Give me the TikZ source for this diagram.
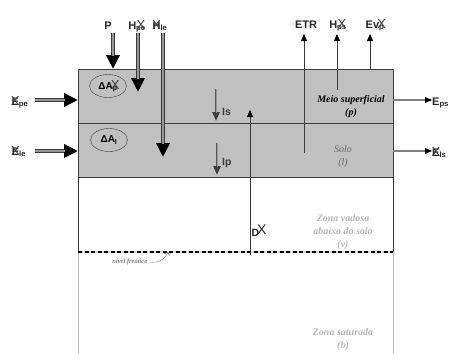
\documentclass[tikz,border=0pt]{standalone}
\usepackage{fontspec}
\setmainfont{Liberation Sans}
\newfontfamily\zoneserif{Liberation Serif}
\usetikzlibrary{arrows.meta,shapes.geometric}
\definecolor{boxgray}{RGB}{192,192,192}
\definecolor{edgegray}{RGB}{60,60,60}
\definecolor{shaftgray}{RGB}{150,150,150}
\definecolor{midtext}{RGB}{105,105,105}
\definecolor{softtext}{RGB}{185,185,185}
\newcommand{\xo}[1]{\ooalign{#1\cr\hidewidth{\fontsize{13}{13}\selectfont\mdseries\color{edgegray}X}\hidewidth\cr}}

\begin{document}
\begin{tikzpicture}[x=1pt, y=-1pt,
  lbl/.style={font=\fontsize{11}{12}\selectfont\bfseries, text=black!85, inner sep=0pt, anchor=base},
  islbl/.style={font=\fontsize{10.5}{12}\selectfont\bfseries, text=edgegray, inner sep=0pt, anchor=base west},
  zone/.style={font=\zoneserif\fontsize{10}{13}\selectfont\bfseries\itshape, align=center, inner sep=0pt},
  fat/.style={line width=3.4pt, draw=edgegray, -{Triangle[length=14pt, width=13pt, color=black]}, postaction={draw=shaftgray, line width=1.5pt, shorten >=13pt, -}},
  slim/.style={line width=2.2pt, draw=edgegray!85, -{Triangle[length=9pt, width=7pt, color=edgegray]}, postaction={draw=shaftgray, line width=1pt, shorten >=8pt, -}},
  upflow/.style={line width=0.9pt, draw=edgegray, -{Triangle[length=7pt, width=6pt, color=black]}},
  side/.style={line width=1.1pt, draw=gray, -{Triangle[length=7pt, width=6pt, color=black]}},
  ell/.style={draw=edgegray, ellipse, minimum width=37pt, minimum height=23pt, inner sep=0pt, font=\fontsize{10}{10}\selectfont\bfseries}]
\useasboundingbox (0,0) rectangle (456,354);
% layers
\fill[boxgray] (78,69) rectangle (393,177);
\draw[softtext, line width=1pt] (78,252) -- (78,354) (393,252) -- (393,354);
\draw[edgegray, line width=1pt] (78,177) rectangle (393,69) (78,123) -- (393,123) (78,177) -- (78,252) (393,177) -- (393,252);
\draw[gray!30, line width=1.3pt] (78,252) -- (393,252);
\draw[black, line width=1.3pt, dash pattern=on 4pt off 2.5pt] (78,252) -- (393,252);
% zone names
\node[zone] (meio) at (351,107) {Meio superficial\\(p)};
\node[zone, text=midtext, font=\zoneserif\fontsize{10}{13}\selectfont\itshape] (solo) at (343,157) {Solo\\(l)};
\node[zone, text=softtext] (vadosa) at (343,232) {Zona vadosa\\abaixo do solo\\(v)};
\node[zone, text=softtext] (saturada) at (343,340) {Zona saturada\\(b)};
\node[zone, text=gray, font=\zoneserif\fontsize{6.5}{7}\selectfont\bfseries\itshape] (nivel) at (130,262) {nível freático};
\coordinate (wt) at (168,252);
\draw[gray, -{Straight Barb[length=3pt]}] (nivel.east) ++(2,0) coordinate (nivelTail) (nivelTail) to[bend right=40] (wt);
% storages
\node[ell] (dAp) at (108,86) {ΔA\xo{\textsubscript{p}}};
\node[ell] (dAl) at (109,140) {ΔA\textsubscript{l}};
% inflows from above
\node[lbl] (P) at (108,29) {P};
\node[lbl] (Hpe) at (137,29) {H\xo{\textsubscript{pe}}};
\node[lbl] (Hle) at (160,29) {\xo{H}\textsubscript{le}};
\coordinate (Ptail) at (113,33);
\coordinate (Hpetail) at (138,33);
\coordinate (Hletail) at (163,33);
\coordinate (Pin) at (113,69);
\coordinate (Hpein) at (138,92);
\coordinate (Hlein) at (163,157);
\draw[fat] (Ptail) -- (Pin);
\draw[fat] (Hpetail) -- (Hpein);
\draw[fat] (Hletail) -- (Hlein);
% lateral inflows
\node[lbl] (Epe) at (20,105) {\xo{E}\textsubscript{pe}};
\node[lbl] (Ele) at (19,155) {\xo{E}\textsubscript{le}};
\coordinate (Epetail) at (35,100);
\coordinate (Eletail) at (35,151);
\coordinate (Epein) at (78,100);
\coordinate (Elein) at (78,151);
\draw[fat] (Epetail) -- (Epein);
\draw[fat] (Eletail) -- (Elein);
% infiltration and percolation
\coordinate (Istop) at (216,89);
\coordinate (Isbot) at (216,121);
\coordinate (Iptop) at (217,143);
\coordinate (Ipbot) at (217,175);
\draw[slim] (Istop) -- (Isbot);
\draw[slim] (Iptop) -- (Ipbot);
\node[islbl] (Is) at (222,115) {Is};
\node[islbl] (Ip) at (222,165) {Ip};
% capillary rise
\coordinate (Dfoot) at (250,255);
\coordinate (Dtip) at (250,110);
\draw[upflow] (Dfoot) -- (Dtip);
\node[lbl, font=\fontsize{10.5}{12}\selectfont\bfseries] (D) at (259,236) {D\kern-2pt\raisebox{1.5pt}{\fontsize{14}{14}\selectfont\mdseries X}};
% outflows upwards
\node[lbl] (ETR) at (306,28) {ETR};
\node[lbl] (Hps) at (338,28) {H\xo{\textsubscript{ps}}};
\node[lbl] (Evp) at (375,28) {Ev\xo{\textsubscript{p}}};
\coordinate (ETRfoot) at (304,153);
\coordinate (Hpsfoot) at (337,90);
\coordinate (Evpfoot) at (370,69);
\coordinate (ETRtip) at (304,34);
\coordinate (Hpstip) at (337,34);
\coordinate (Evptip) at (370,34);
\draw[upflow] (ETRfoot) -- (ETRtip);
\draw[upflow] (Hpsfoot) -- (Hpstip);
\draw[upflow] (Evpfoot) -- (Evptip);
% lateral outflows
\node[lbl, anchor=base west] (Eps) at (432,105) {E\textsubscript{ps}};
\node[lbl, anchor=base west] (Els) at (432,156) {\xo{E}\textsubscript{ls}};
\coordinate (Epsout) at (393,100);
\coordinate (Elsout) at (393,151);
\draw[side] (Epsout) -- (Eps.west |- Epsout);
\draw[side] (Elsout) -- (Els.west |- Elsout);
\end{tikzpicture}
\end{document}
